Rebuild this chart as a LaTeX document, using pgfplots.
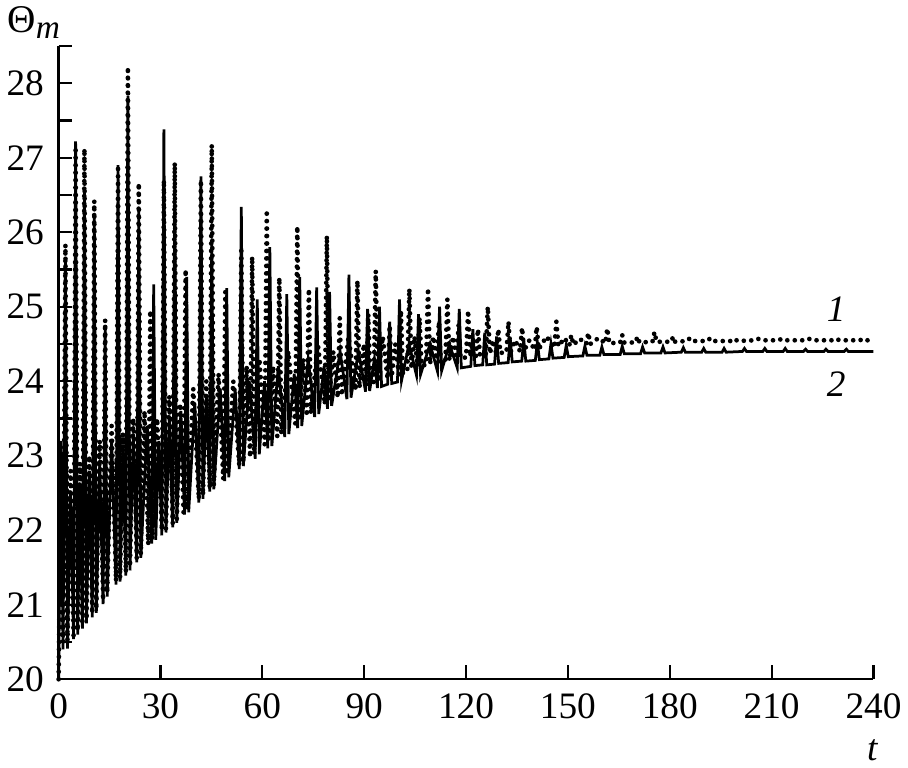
\documentclass[border=0pt]{standalone}
\usepackage{fontspec}
\setmainfont{Liberation Serif}
\usepackage{pgfplots}
\pgfplotsset{compat=1.18}

% curve 1 (dotted)
\pgfplotstableread{
t y
0 20.0
0.7 22.8
1.3 20.5
2.0 25.83
2.6 20.47
3.5 22.8
4.4 20.59
5.0 27.15
5.6 20.65
6.3 22.9
7.0 20.73
7.6 27.12
8.2 20.80
9.05 23.0
9.9 20.88
10.5 26.42
11.1 20.94
12.1 23.2
13.1 21.06
13.7 24.82
14.3 21.16
15.6 23.4
16.9 21.32
17.5 26.85
18.1 21.36
18.95 23.3
19.8 21.44
20.4 28.22
21.0 21.51
22.0 23.5
23.0 21.62
23.6 26.66
24.2 21.68
25.3 23.6
26.4 21.81
27.0 24.95
27.6 21.88
29.0 23.5
30.4 22.0
31.0 26.70
31.6 22.02
32.6 23.8
33.6 22.09
34.2 26.93
34.8 22.15
35.8 23.7
36.8 22.24
37.4 25.50
38.0 22.28
39.65 23.9
41.3 22.42
41.9 26.70
42.5 22.47
43.5 24.0
44.5 22.57
45.1 27.17
45.7 22.60
47.1 24.1
48.5 22.69
49.1 25.20
49.7 22.75
51.45 24.0
53.2 22.87
53.8 25.80
54.4 22.91
55.4 24.2
56.4 22.98
57.0 25.67
57.6 23.02
59.15 24.3
60.7 23.15
61.3 26.30
61.9 23.19
63.15 24.2
64.4 23.26
65.0 25.39
65.6 23.30
67.65 24.4
69.7 23.43
70.3 26.08
70.9 23.47
72.0 24.3
73.1 23.53
73.7 25.24
74.3 23.57
76.35 24.5
78.4 23.69
79.0 25.95
79.6 23.73
80.9 24.4
82.2 23.78
82.8 24.85
83.4 23.81
85.4 24.6
87.4 23.88
88.0 25.35
88.6 23.91
89.9 24.5
90.6 23.94
91.2 24.90
91.8 23.95
92.8 23.97
93.4 25.48
94.0 24.00
95.45 24.6
96.9 24.03
97.5 24.75
98.1 24.06
99.15 24.5
100.2 24.09
100.8 24.95
101.4 24.11
102.7 24.13
103.3 25.24
103.9 24.17
104.8 24.6
105.7 24.20
106.3 24.85
106.9 24.21
108.2 24.22
108.8 25.25
109.4 24.23
110.4 24.6
111.4 24.24
112.0 24.80
112.6 24.25
113.9 24.27
114.5 25.10
115.1 24.28
116.15 24.6
117.2 24.30
117.8 24.75
118.4 24.31
120.0 24.32
120.6 24.95
121.2 24.33
122.05 24.55
122.9 24.34
123.5 24.70
124.1 24.35
125.8 24.36
126.4 25.00
127.0 24.37
128.0 24.55
128.9 24.37
129.5 24.70
130.1 24.38
131.9 24.39
132.5 24.80
133.1 24.39
134.5 24.55
135.9 24.40
136.5 24.72
137.1 24.41
138.65 24.55
140.2 24.42
140.8 24.73
141.4 24.43
143.7 24.60
146.0 24.45
146.6 24.80
147.2 24.47
149.0 24.58
150.4 24.48
151.0 24.62
151.6 24.49
153.5 24.57
155.4 24.50
156.0 24.65
156.6 24.50
159.0 24.58
161.0 24.51
161.6 24.71
162.2 24.51
165.4 24.52
166.0 24.62
166.6 24.52
169.9 24.52
170.5 24.60
171.1 24.52
174.9 24.53
175.5 24.66
176.1 24.53
180.4 24.53
181.0 24.60
181.6 24.53
185 24.54
186 24.58
187 24.54
191 24.54
192 24.58
193 24.54
198 24.54
199 24.57
200 24.54
205 24.55
206 24.57
207 24.55
212 24.55
213 24.57
214 24.55
220 24.55
221 24.57
222 24.55
228 24.55
229 24.57
230 24.55
236 24.55
237 24.57
238 24.55
240 24.55
}\curveone

% curve 2 (solid)
\pgfplotstableread{
t y
0 20.0
0.7 23.2
1.3 20.4
2.0 25.60
2.6 20.41
3.5 22.5
4.4 20.54
5.0 27.22
5.6 20.60
6.3 22.6
7.0 20.68
7.6 26.60
8.2 20.75
9.05 22.8
9.9 20.83
10.5 26.20
11.1 20.89
12.1 22.9
13.1 21.01
13.7 24.70
14.3 21.11
15.6 23.2
16.9 21.27
17.5 26.90
18.1 21.31
18.95 23.1
19.8 21.39
20.4 27.83
21.0 21.46
22.0 23.3
23.0 21.57
23.6 26.30
24.2 21.63
26.1 23.4
27.4 21.82
28.0 25.30
28.6 21.87
29.5 23.2
30.4 21.93
31.0 27.38
31.6 21.97
32.6 23.5
33.6 22.04
34.2 26.56
34.8 22.10
36.0 23.6
37.1 22.21
37.7 25.40
38.3 22.24
40.1 23.7
41.3 22.37
41.9 26.75
42.5 22.42
43.5 23.8
44.5 22.52
45.1 25.85
45.7 22.55
47.6 23.9
48.9 22.66
49.5 25.25
50.1 22.71
52.0 23.9
53.2 22.82
53.8 26.34
54.4 22.86
56.15 24.0
57.9 22.96
58.5 25.10
59.1 23.02
60.65 24.0
61.6 23.10
62.2 25.80
62.8 23.13
64.7 24.2
66.6 23.25
67.2 25.17
67.8 23.29
69.4 24.1
70.4 23.37
71.0 25.40
71.6 23.40
73.5 24.3
75.4 23.52
76.0 25.26
76.6 23.56
78.2 24.2
79.2 23.63
79.8 25.20
80.4 23.67
82.9 24.4
84.9 23.76
85.5 25.43
86.1 23.78
88.3 24.4
90.4 23.86
91.0 24.97
91.6 23.87
93.0 24.3
93.9 23.91
94.5 25.00
95.1 23.93
96.9 23.96
97.5 24.80
98.1 23.97
99.8 23.99
100.4 25.10
101.0 24.01
103.2 24.5
105.4 24.08
106.0 24.90
106.6 24.09
109.4 24.5
111.6 24.13
112.2 25.00
112.8 24.14
115.1 24.5
117.4 24.18
118.0 24.97
118.6 24.18
121.4 24.20
122.0 24.70
122.6 24.21
124.9 24.22
125.5 24.65
126.1 24.22
128.4 24.23
129.0 24.60
129.6 24.24
132.4 24.25
133.0 24.58
133.6 24.26
136.4 24.27
137.0 24.55
137.6 24.27
140.4 24.28
141.0 24.52
141.6 24.29
144.4 24.30
145.0 24.50
145.6 24.31
148.9 24.32
149.5 24.48
150.1 24.33
154.4 24.34
155.0 24.47
155.6 24.35
159.4 24.35
160.0 24.46
160.6 24.36
165.4 24.36
166.0 24.47
166.6 24.37
171.4 24.37
172.0 24.46
172.6 24.38
177.4 24.38
178.0 24.46
178.6 24.38
183.4 24.39
184.0 24.45
184.6 24.39
189.4 24.39
190.0 24.44
190.6 24.39
195.4 24.39
196.0 24.44
196.6 24.39
201.4 24.40
202.0 24.44
202.6 24.40
207.4 24.40
208.0 24.44
208.6 24.40
213.4 24.40
214.0 24.44
214.6 24.40
219.4 24.40
220.0 24.43
220.6 24.40
225.4 24.40
226.0 24.43
226.6 24.40
231.4 24.40
232.0 24.43
232.6 24.40
240 24.40
}\curvetwo

\begin{document}
\begin{tikzpicture}
\begin{axis}[
    scale only axis,
    width  = 415pt,
    height = 322.5pt,
    xmin = 0, xmax = 240,
    ymin = 20, ymax = 28.5,
    axis lines = left,
    axis line style = {-, line width=1.2pt},
    xtick = {0,30,...,240},
    ytick = {20,21,...,28},
    minor ytick = {20.5,21.5,...,28.5},
    tick align = inside,
    major tick length = 7pt,
    minor tick length = 7pt,
    tick style = {line width=1.1pt, black},
    tick label style = {font=\fontsize{19}{20}\selectfont},
    xticklabel style = {yshift=-4pt},
    yticklabel style = {xshift=-4pt},
    /pgf/number format/assume math mode=true,
    clip = false,
  ]
  \addplot[black, line width=2.4pt, line cap=round, dash pattern=on 0pt off 3.8pt]
    table[x=t, y=y] {\curveone};
  \addplot[black, line width=1.4pt] table[x=t, y=y] {\curvetwo};

  \node[font=\fontsize{20}{22}\selectfont] at (rel axis cs:-0.030,1.037) {Θ\textsubscript{\textit{\fontsize{17}{18}\selectfont m}}};
  \node[font=\fontsize{19}{20}\selectfont] at (rel axis cs:0.999,-0.112) {\textit{t}};
  \node[font=\fontsize{19}{20}\selectfont] at (axis cs:229,24.97) {\textit{1}};
  \node[font=\fontsize{19}{20}\selectfont] at (axis cs:229,23.96) {\textit{2}};
\end{axis}
\end{tikzpicture}
\end{document}
